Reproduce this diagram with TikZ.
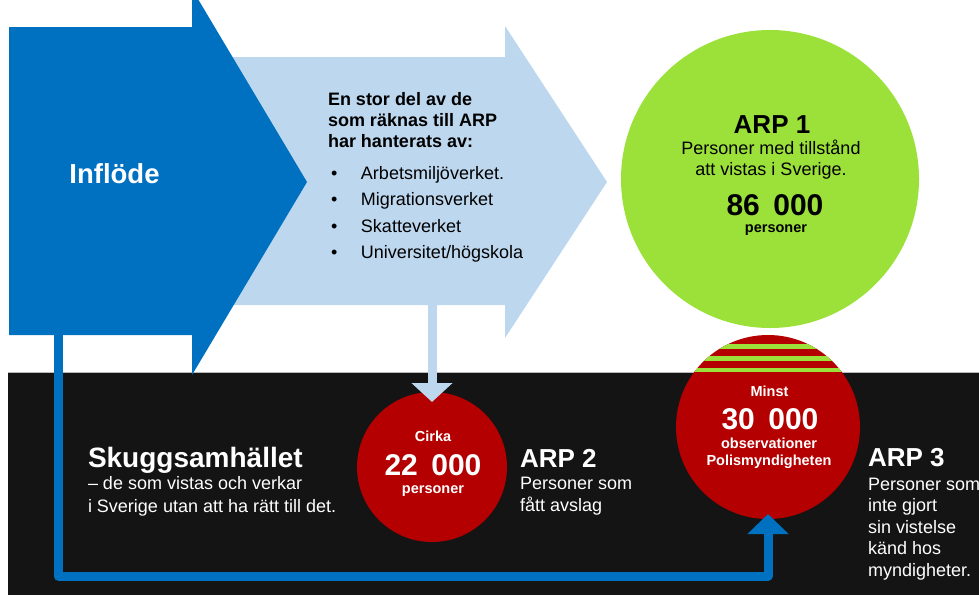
\documentclass[tikz,border=0pt]{standalone}
\usepackage{fontspec}
\setmainfont{Liberation Sans}
\usetikzlibrary{arrows.meta}
\definecolor{inflowblue}{HTML}{0070C0}
\definecolor{paleblue}{HTML}{BDD7EE}
\definecolor{bgdark}{HTML}{141414}
\definecolor{limegreen}{HTML}{9BE13A}
\definecolor{deepred}{HTML}{B40000}
\begin{document}
\begin{tikzpicture}[x=1pt,y=-1pt,
  txt/.style={inner sep=0pt, outer sep=0pt},
  whitetxt/.style={txt, text=white},
  bigbold/.style={font=\bfseries\fontsize{26}{30}\selectfont},
  numbold/.style={font=\bfseries\fontsize{30}{34}\selectfont},
  smallbold/.style={font=\bfseries\fontsize{14.5}{17}\selectfont},
  disc/.style={circle, inner sep=0pt, outer sep=0pt}]
\useasboundingbox (0,0) rectangle (979,595);
% dark lower band
\fill[bgdark] (8,372) rectangle (979,595);
\draw[gray!55, line width=0.8pt] (8,372) -- (979,372);
% pale arrow
\fill[paleblue] (190,57) -- (505,57) -- (505,26) -- (607,182) -- (505,338) -- (505,305) -- (190,305) -- cycle;
% inflow arrow
\fill[inflowblue] (9,27) -- (192,27) -- (192,-11) -- (307,182) -- (192,375) -- (192,335) -- (9,335) -- cycle;
\coordinate (inflow) at (58,334);
\coordinate (lowline) at (58,576);
\coordinate (paleout) at (432,304);
% circles
\node[disc, fill=limegreen, minimum size=298pt] (arp1) at (770,179) {};
\node[disc, fill=deepred, minimum size=150pt] (arp2) at (432,467) {};
\node[disc, fill=deepred, minimum size=184pt] (arp3) at (768,427) {};
\begin{scope}
  \clip (arp3.center) circle (92pt);
  \fill[limegreen] (670,344) rectangle (870,348.5);
  \fill[limegreen] (670,356) rectangle (870,360.5);
  \fill[limegreen] (670,368) rectangle (870,372);
\end{scope}
% connectors
\draw[paleblue, line width=9pt, -{Triangle[width=40pt,length=19pt]}] (paleout) -- ([yshift=-10pt]arp2.north);
\draw[inflowblue, line width=9pt, line join=round, -{Triangle[width=40pt,length=20pt]}] (inflow) -- (lowline) -| ([yshift=5pt]arp3.south);
% texts (multi-line nodes are placed at the baseline of their last line)
\node[whitetxt, font=\bfseries\fontsize{27.5}{30}\selectfont, anchor=base] (tinflow) at (114.5,183) {Inflöde};
\node[txt, anchor=base west, align=left, font=\bfseries\fontsize{18}{21}\selectfont] (thead) at (328,147) {En stor del av de\\som räknas till ARP\\har hanterats av:};
\node[txt, anchor=base west, align=left, font=\fontsize{18}{26.5}\selectfont] (tlist) at (331,258.5) {\makebox[30pt][l]{\textbullet}Arbetsmiljöverket.\\\makebox[30pt][l]{\textbullet}Migrationsverket\\\makebox[30pt][l]{\textbullet}Skatteverket\\\makebox[30pt][l]{\textbullet}Universitet/högskola};
% ARP 1
\node[txt, bigbold, anchor=base] (a1title) at (772,133) {ARP 1};
\node[txt, anchor=base, align=center, font=\fontsize{18}{21}\selectfont] (a1desc) at (771,175.5) {Personer med tillstånd\\att vistas i Sverige.};
\node[txt, numbold, anchor=base] (a1num) at (775,215) {86\hspace{0.45em}000};
\node[txt, smallbold, anchor=base] (a1unit) at (776,232) {personer};
% ARP 2 circle
\node[whitetxt, smallbold, anchor=base] (a2pre) at (433,441) {Cirka};
\node[whitetxt, numbold, anchor=base] (a2num) at (433,475) {22\hspace{0.45em}000};
\node[whitetxt, smallbold, anchor=base] (a2unit) at (433,493) {personer};
% ARP 3 circle
\node[whitetxt, smallbold, anchor=base] (a3pre) at (769.5,396) {Minst};
\node[whitetxt, numbold, anchor=base] (a3num) at (770,429) {30\hspace{0.45em}000};
\node[whitetxt, smallbold, anchor=base, align=center] (a3unit) at (769,465) {observationer\\Polismyndigheten};
% side labels
\node[whitetxt, bigbold, anchor=base west] (a2title) at (520,467) {ARP 2};
\node[whitetxt, anchor=base west, align=left, font=\fontsize{18}{22}\selectfont] (a2desc) at (520,511) {Personer som\\fått avslag};
\node[whitetxt, bigbold, anchor=base west] (a3title) at (868,466) {ARP 3};
\node[whitetxt, anchor=base west, align=left, font=\fontsize{18}{21.6}\selectfont] (a3desc) at (868,576.4) {Personer som\\inte gjort\\sin vistelse\\känd hos\\myndigheter.};
\node[whitetxt, font=\bfseries\fontsize{28}{30}\selectfont, anchor=base west] (shadow) at (88,467) {Skuggsamhället};
\node[whitetxt, anchor=base west, align=left, font=\fontsize{18}{23}\selectfont] (shadowdesc) at (88,512) {– de som vistas och verkar\\i Sverige utan att ha rätt till det.};
\end{tikzpicture}
\end{document}
